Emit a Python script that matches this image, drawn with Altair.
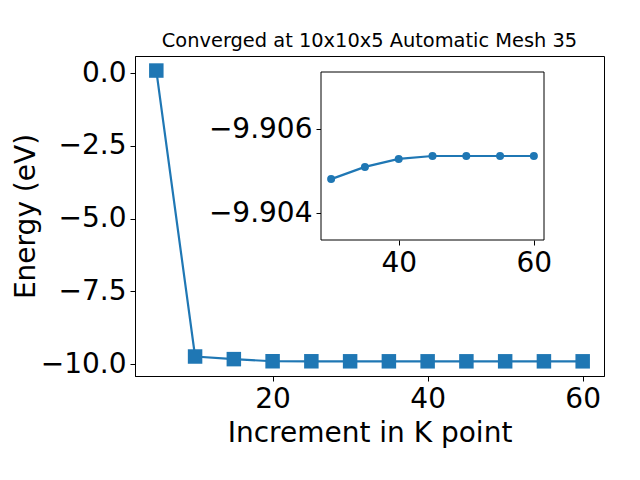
import altair as alt
import pandas as pd

# ---- data ----
kpoints = [5, 10, 15, 20, 25, 30, 35, 40, 45, 50, 55, 60]
energy = [0.09, -9.74, -9.83, -9.903, -9.904, -9.90481, -9.90510, -9.90529,
          -9.90536, -9.90536, -9.90536, -9.90536]
inset_k = [30, 35, 40, 45, 50, 55, 60]
inset_e = [-9.90481, -9.90510, -9.90529, -9.90536, -9.90536, -9.90536, -9.90536]

main_x_ticks = [20, 40, 60]
main_y_ticks = [0, -2.5, -5, -7.5, -10]
inset_x_ticks = [40, 60]
inset_y_ticks = [-9.906, -9.904]

main_x_dom = [2.25, 62.75]
main_y_dom = [-10.41, 0.59]
inset_x_dom = [28.5, 61.5]
inset_y_dom = [-9.90736, -9.90336]

BLUE = "#1f77b4"
FONT = "DejaVu Sans"
W, H = 469, 320

df = pd.DataFrame({"k": kpoints, "e": energy})
di = pd.DataFrame({"k": inset_k, "e": inset_e})
dframe = pd.DataFrame({"x0": [inset_x_dom[0]], "x1": [inset_x_dom[1]],
                       "y0": [inset_y_dom[0]], "y1": [inset_y_dom[1]]})

axis_common = dict(labelFontSize=28, labelFont=FONT, labelColor="black",
                   tickColor="black", tickSize=5, tickWidth=1,
                   domainColor="black", labelPadding=4, grid=False,
                   titleFontSize=28, titleFont=FONT, titleFontWeight="normal",
                   titleColor="black")

# ---- main plot ----
xs = alt.Scale(domain=main_x_dom, nice=False, zero=False)
ys = alt.Scale(domain=main_y_dom, nice=False, zero=False)
mx_axis = alt.Axis(values=main_x_ticks, format="d", titlePadding=6, **axis_common)
my_axis = alt.Axis(values=main_y_ticks, format=".1f", titlePadding=0, **axis_common)
mx = alt.X("k:Q", scale=xs, axis=mx_axis, title="Increment in K point")
my = alt.Y("e:Q", scale=ys, axis=my_axis, title="Energy (eV)")

main_line = alt.Chart(df).mark_line(color=BLUE, strokeWidth=2.2).encode(x=mx, y=my)
main_pts = alt.Chart(df).mark_point(shape="square", filled=True, size=210,
                                    color=BLUE, opacity=1).encode(x=mx, y=my)
main = alt.layer(main_line, main_pts)

# ---- inset ----
ixs = alt.Scale(domain=inset_x_dom, range=[186, 409], nice=False, zero=False)
iys = alt.Scale(domain=inset_y_dom, range=[16, 184], nice=False, zero=False)
ix_axis = alt.Axis(values=inset_x_ticks, format="d", orient="bottom",
                   offset=-136, domain=False, **axis_common)
iy_axis = alt.Axis(values=inset_y_ticks, format=".3f", orient="left",
                   offset=-186, domain=False, **axis_common)

frame = alt.Chart(dframe).mark_rect(fill="white", stroke="black", strokeWidth=1).encode(
    x=alt.X("x0:Q", scale=ixs, axis=ix_axis, title=None), x2="x1",
    y=alt.Y("y0:Q", scale=iys, axis=iy_axis, title=None), y2="y1")
ix = alt.X("k:Q", scale=ixs, axis=ix_axis, title=None)
iy = alt.Y("e:Q", scale=iys, axis=iy_axis, title=None)
inset_line = alt.Chart(di).mark_line(color=BLUE, strokeWidth=2.2).encode(x=ix, y=iy)
inset_pts = alt.Chart(di).mark_point(shape="circle", filled=True, size=64,
                                     color=BLUE, opacity=1).encode(x=ix, y=iy)
inset = alt.layer(frame, inset_line, inset_pts)

chart = alt.layer(main, inset).resolve_scale(
    x="independent", y="independent"
).properties(
    width=W, height=H,
    autosize=alt.AutoSizeParams(type="none"),
    padding={"left": 127, "top": 48, "right": 28, "bottom": 96},
    background="white",
    title=alt.TitleParams("Converged at 10x10x5 Automatic Mesh 35", fontSize=19.4,
                          font=FONT, fontWeight="normal", color="black",
                          anchor="middle", offset=5),
).configure_view(stroke="black", strokeWidth=1)

chart.save("out.html", embed_options={"renderer": "svg", "actions": False})
